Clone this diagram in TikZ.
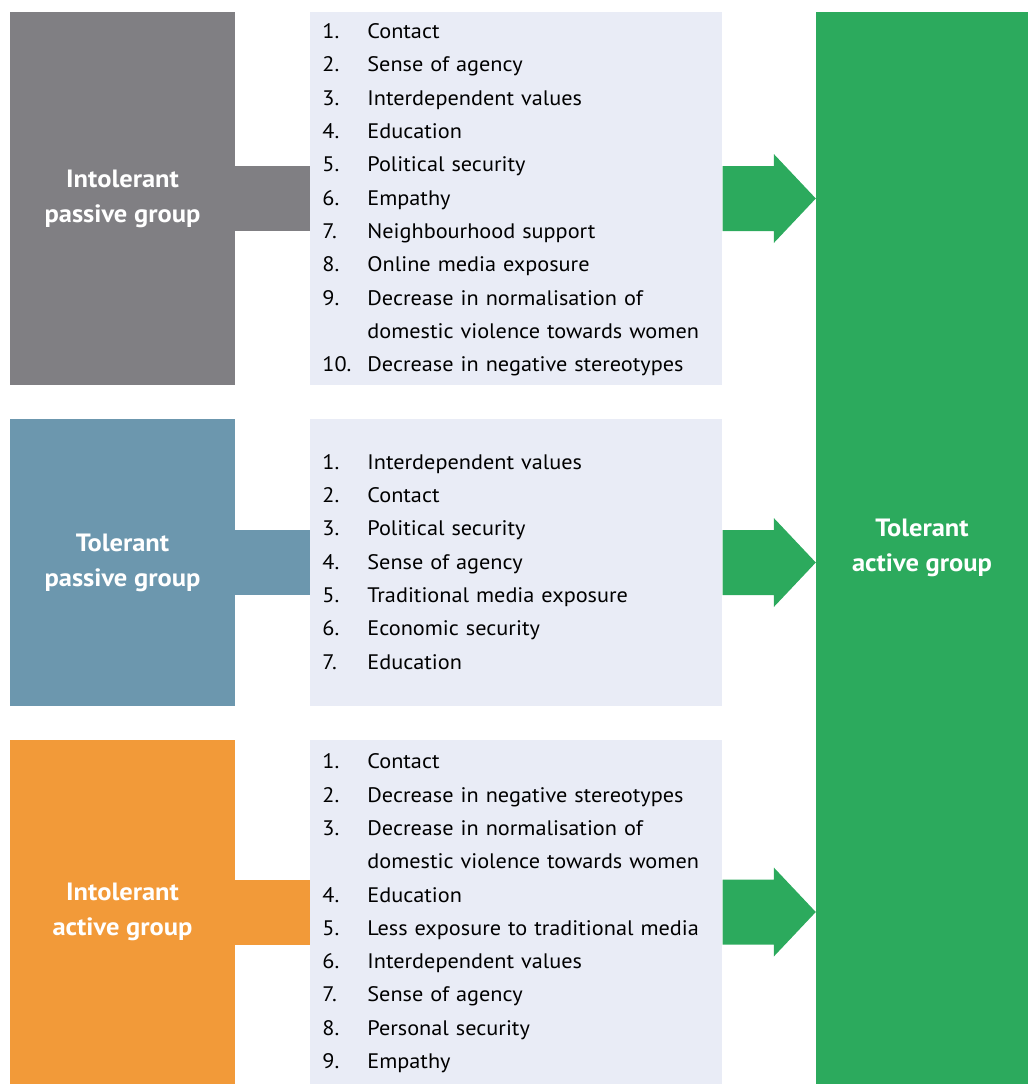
\documentclass[tikz,border=0pt]{standalone}
\usepackage{fontspec}
\setmainfont{PT Sans}[FakeStretch=1.06]
\usetikzlibrary{positioning}
\definecolor{groupgray}{HTML}{807F83}
\definecolor{groupblue}{HTML}{6C97AE}
\definecolor{grouporange}{HTML}{F29A39}
\definecolor{arrowgreen}{HTML}{2CAA5D}
\definecolor{listbg}{HTML}{E9ECF6}
\tikzset{
  groupbox/.style={text=white,font=\fontsize{25}{35}\selectfont\bfseries,
    align=center,minimum width=225pt,inner sep=0pt},
  listbox/.style={fill=listbg,minimum width=412pt,text width=388pt,
    inner xsep=12pt,inner ysep=0pt,align=left,
    font=\fontsize{21}{33.3}\selectfont},
}
\newcommand{\factors}[1]{\raisebox{-2.5pt}{\begin{tabular}{@{}p{45pt}@{}l@{}}#1\end{tabular}}}
\begin{document}
\begin{tikzpicture}[x=1pt,y=-1pt]
\useasboundingbox (0,0) rectangle (1028,1084);
% the three groups on the left
\node[groupbox,fill=groupgray,minimum height=373pt] (intolpass) at (122.5,198.5) {Intolerant\\passive group};
\node[groupbox,fill=groupblue,minimum height=287pt] (tolpass) at (122.5,562.5) {Tolerant\\passive group};
\node[groupbox,fill=grouporange,minimum height=344pt] (intolact) at (122.5,912) {Intolerant\\active group};
% the factors
\node[listbox,minimum height=373pt,right=75pt of intolpass] (factorsA) {\factors{
1. & Contact\\
2. & Sense of agency\\
3. & Interdependent values\\
4. & Education\\
5. & Political security\\
6. & Empathy\\
7. & Neighbourhood support\\
8. & Online media exposure\\
9. & Decrease in normalisation of\\
   & domestic violence towards women\\
10. & Decrease in negative stereotypes}};
\node[listbox,minimum height=287pt,right=75pt of tolpass] (factorsB) {\factors{
1. & Interdependent values\\
2. & Contact\\
3. & Political security\\
4. & Sense of agency\\
5. & Traditional media exposure\\
6. & Economic security\\
7. & Education}};
\node[listbox,minimum height=344pt,right=75pt of intolact] (factorsC) {\factors{
1. & Contact\\
2. & Decrease in negative stereotypes\\
3. & Decrease in normalisation of\\
   & domestic violence towards women\\
4. & Education\\
5. & Less exposure to traditional media\\
6. & Interdependent values\\
7. & Sense of agency\\
8. & Personal security\\
9. & Empathy}};
% the target group
\node[groupbox,fill=arrowgreen,minimum width=212pt,minimum height=1072pt] (tolact) at (922,548) {Tolerant\\active group};
% bars and arrows
\foreach \g/\f/\c in {intolpass/factorsA/groupgray,tolpass/factorsB/groupblue,intolact/factorsC/grouporange}{
  \fill[\c] ([yshift=32.5pt]\g.east) rectangle ([yshift=-32.5pt]\f.west);
  \coordinate (tip) at (tolact.west |- \f.east);
  \fill[arrowgreen] ([yshift=32.5pt]\f.east) -- ([xshift=-42pt,yshift=32.5pt]tip)
    -- ([xshift=-42pt,yshift=44.5pt]tip) -- (tip)
    -- ([xshift=-42pt,yshift=-44.5pt]tip) -- ([xshift=-42pt,yshift=-32.5pt]tip)
    -- ([yshift=-32.5pt]\f.east) -- cycle;
}
\end{tikzpicture}
\end{document}
